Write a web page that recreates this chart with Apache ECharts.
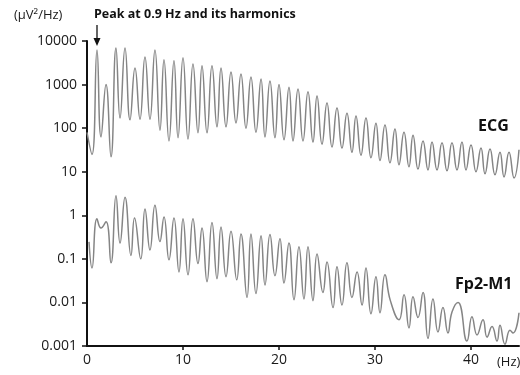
<!DOCTYPE html>
<html>
<head>
<meta charset="utf-8">
<script src="https://cdn.jsdelivr.net/npm/echarts@6/dist/echarts.min.js"></script>
<style>html,body{margin:0;padding:0;background:#fff;}#c{width:520px;height:375px;}</style>
</head>
<body>
<div id="c"></div>
<script>
var xTickValues = [0, 10, 20, 30, 40];
var yTickLabels = ['0.001', '0.01', '0.1', '1', '10', '100', '1000', '10000'];

var ecgHz = [0, 0.52, 1.04, 1.46, 1.98, 2.5, 3.02, 3.44, 3.96, 4.48, 5.0, 5.52, 6.04, 6.56, 7.08, 7.6, 8.02, 8.54, 9.06, 9.48,
  10.0, 10.52, 11.04, 11.56, 11.98, 12.5, 13.02, 13.54, 13.96, 14.48, 15.0, 15.52, 16.04, 16.56, 17.08, 17.6, 18.13, 18.54, 19.06, 19.58,
  20.0, 20.52, 21.04, 21.46, 21.98, 22.5, 23.02, 23.54, 23.96, 24.48, 25.0, 25.52, 26.04, 26.56, 27.08, 27.6, 28.02, 28.54, 29.06, 29.58,
  30.1, 30.52, 31.04, 31.56, 32.08, 32.5, 33.02, 33.54, 33.96, 34.48, 35.0, 35.52, 35.94, 36.46, 36.98, 37.5, 38.02, 38.54, 39.06, 39.48,
  40.0, 40.52, 41.04, 41.46, 41.98, 42.5, 43.02, 43.44, 43.96, 44.48, 45.0];
var ecgVal = [80, 25, 6200, 63, 1000, 22, 6900, 170, 6900, 155, 2400, 160, 4300, 160, 6200, 90, 3700, 51, 3500, 60,
  4100, 56, 2950, 78, 2700, 78, 2700, 107, 2400, 107, 1950, 132, 1750, 100, 1500, 81, 1350, 63, 1200, 60,
  1000, 54, 870, 51, 790, 51, 680, 48, 550, 43, 380, 37, 290, 35, 220, 28, 190, 24, 170, 21,
  130, 18, 118, 16, 96, 14.5, 81, 13, 69, 11.5, 51, 11, 48, 11, 46, 10.5, 46, 11, 48, 11,
  41, 10, 35, 9, 33, 8.5, 28, 7.6, 28, 7.2, 32];

var fpHz = [0.21, 0.52, 1.04, 1.46, 1.98, 2.5, 3.02, 3.44, 3.96, 4.58, 4.95, 5.6, 6.04, 6.56, 7.08, 7.6, 8.02, 8.54, 9.06, 9.58,
  10.0, 10.52, 11.04, 11.56, 11.98, 12.5, 13.02, 13.54, 13.96, 14.48, 15.0, 15.6, 16.04, 16.67, 17.08, 17.6, 18.13, 18.54, 19.06, 19.58,
  20.1, 20.52, 21.04, 21.56, 22.08, 22.6, 23.02, 23.54, 23.96, 24.58, 25.0, 25.63, 26.04, 26.56, 27.08, 27.6, 28.13, 28.65, 29.06, 29.58,
  30.1, 30.52, 31.04, 31.6, 32.5, 33.02, 33.54, 33.96, 34.48, 35.0, 35.52, 36.04, 36.56, 37.08, 37.6, 38.02, 38.65, 39.58,
  40.1, 40.63, 41.25, 41.67, 42.19, 42.71, 43.02, 43.54, 44.06, 44.38, 45.0];
var fpVal = [0.245, 0.062, 0.83, 0.51, 0.71, 0.081, 2.8, 0.23, 2.6, 0.12, 0.87, 0.1, 1.4, 0.16, 1.7, 0.25, 0.91, 0.095, 0.87, 0.05,
  0.83, 0.043, 0.83, 0.078, 0.51, 0.03, 0.68, 0.035, 0.54, 0.039, 0.43, 0.033, 0.37, 0.013, 0.37, 0.016, 0.34, 0.025, 0.36, 0.041,
  0.29, 0.028, 0.23, 0.0115, 0.19, 0.012, 0.19, 0.011, 0.13, 0.017, 0.085, 0.0076, 0.066, 0.0087, 0.081, 0.013, 0.05, 0.0087, 0.062, 0.0055,
  0.039, 0.0058, 0.043, 0.011, 0.004, 0.015, 0.0026, 0.0135, 0.0045, 0.017, 0.0015, 0.012, 0.0021, 0.0076, 0.002, 0.006, 0.01, 0.0013,
  0.0047, 0.0018, 0.004, 0.0016, 0.0028, 0.0013, 0.003, 0.0011, 0.0023, 0.002, 0.0058];

function pairs(xs, ys) { return xs.map(function (x, i) { return [x, ys[i]]; }); }

var chart = echarts.init(document.getElementById('c'), null, {renderer: 'canvas'});
var FONT = '"Open Sans", "Noto Sans", sans-serif';
var lineStyle = {color: '#858585', width: 1.5};

chart.setOption({
  animation: false,
  backgroundColor: '#fff',
  grid: {left: 87, right: 1, top: 41, bottom: 29},
  xAxis: {
    type: 'value', min: 0, max: 45,
    axisLine: {show: true, onZero: false, lineStyle: {color: '#111', width: 2}},
    axisTick: {show: true, length: 4, lineStyle: {color: '#111', width: 1.5}, customValues: [10, 20, 30, 40]},
    axisLabel: {customValues: xTickValues, color: '#1a1a1a', fontSize: 14, fontFamily: FONT, margin: 7},
    splitLine: {show: false}
  },
  yAxis: {
    type: 'log', logBase: 10, min: 0.001, max: 10000, interval: 1,
    axisLine: {show: true, lineStyle: {color: '#111', width: 2}},
    axisTick: {show: true, length: 5, lineStyle: {color: '#111', width: 1.5}},
    axisLabel: {
      color: '#1a1a1a', fontSize: 14, fontFamily: FONT, margin: 10,
      formatter: function (v) { return yTickLabels[Math.round(Math.log10(v)) + 3]; }
    },
    splitLine: {show: false}
  },
  series: [
    {name: 'ECG', type: 'line', data: pairs(ecgHz, ecgVal), symbol: 'none', smooth: 0.5, lineStyle: lineStyle},
    {name: 'Fp2-M1', type: 'line', data: pairs(fpHz, fpVal), symbol: 'none', smooth: 0.5, lineStyle: lineStyle}
  ],
  graphic: [
    {type: 'text', left: 14, top: 9, style: {text: '(µV²/Hz)', font: '13px ' + FONT, fill: '#1a1a1a'}},
    {type: 'text', left: 94, top: 8, style: {text: 'Peak at 0.9 Hz and its harmonics', font: 'bold 12.5px ' + FONT, fill: '#111'}},
    {type: 'line', shape: {x1: 97, y1: 25, x2: 97, y2: 40}, style: {stroke: '#111', lineWidth: 1.3}},
    {type: 'polygon', shape: {points: [[93.5, 38], [100.5, 38], [97, 46]]}, style: {fill: '#111'}},
    {type: 'text', left: 478, top: 118, style: {text: 'ECG', font: 'bold 16px ' + FONT, fill: '#111'}},
    {type: 'text', left: 455, top: 276, style: {text: 'Fp2-M1', font: 'bold 16px ' + FONT, fill: '#111'}},
    {type: 'text', left: 497, top: 356, style: {text: '(Hz)', font: '13px ' + FONT, fill: '#1a1a1a'}}
  ]
});
</script>
</body>
</html>
